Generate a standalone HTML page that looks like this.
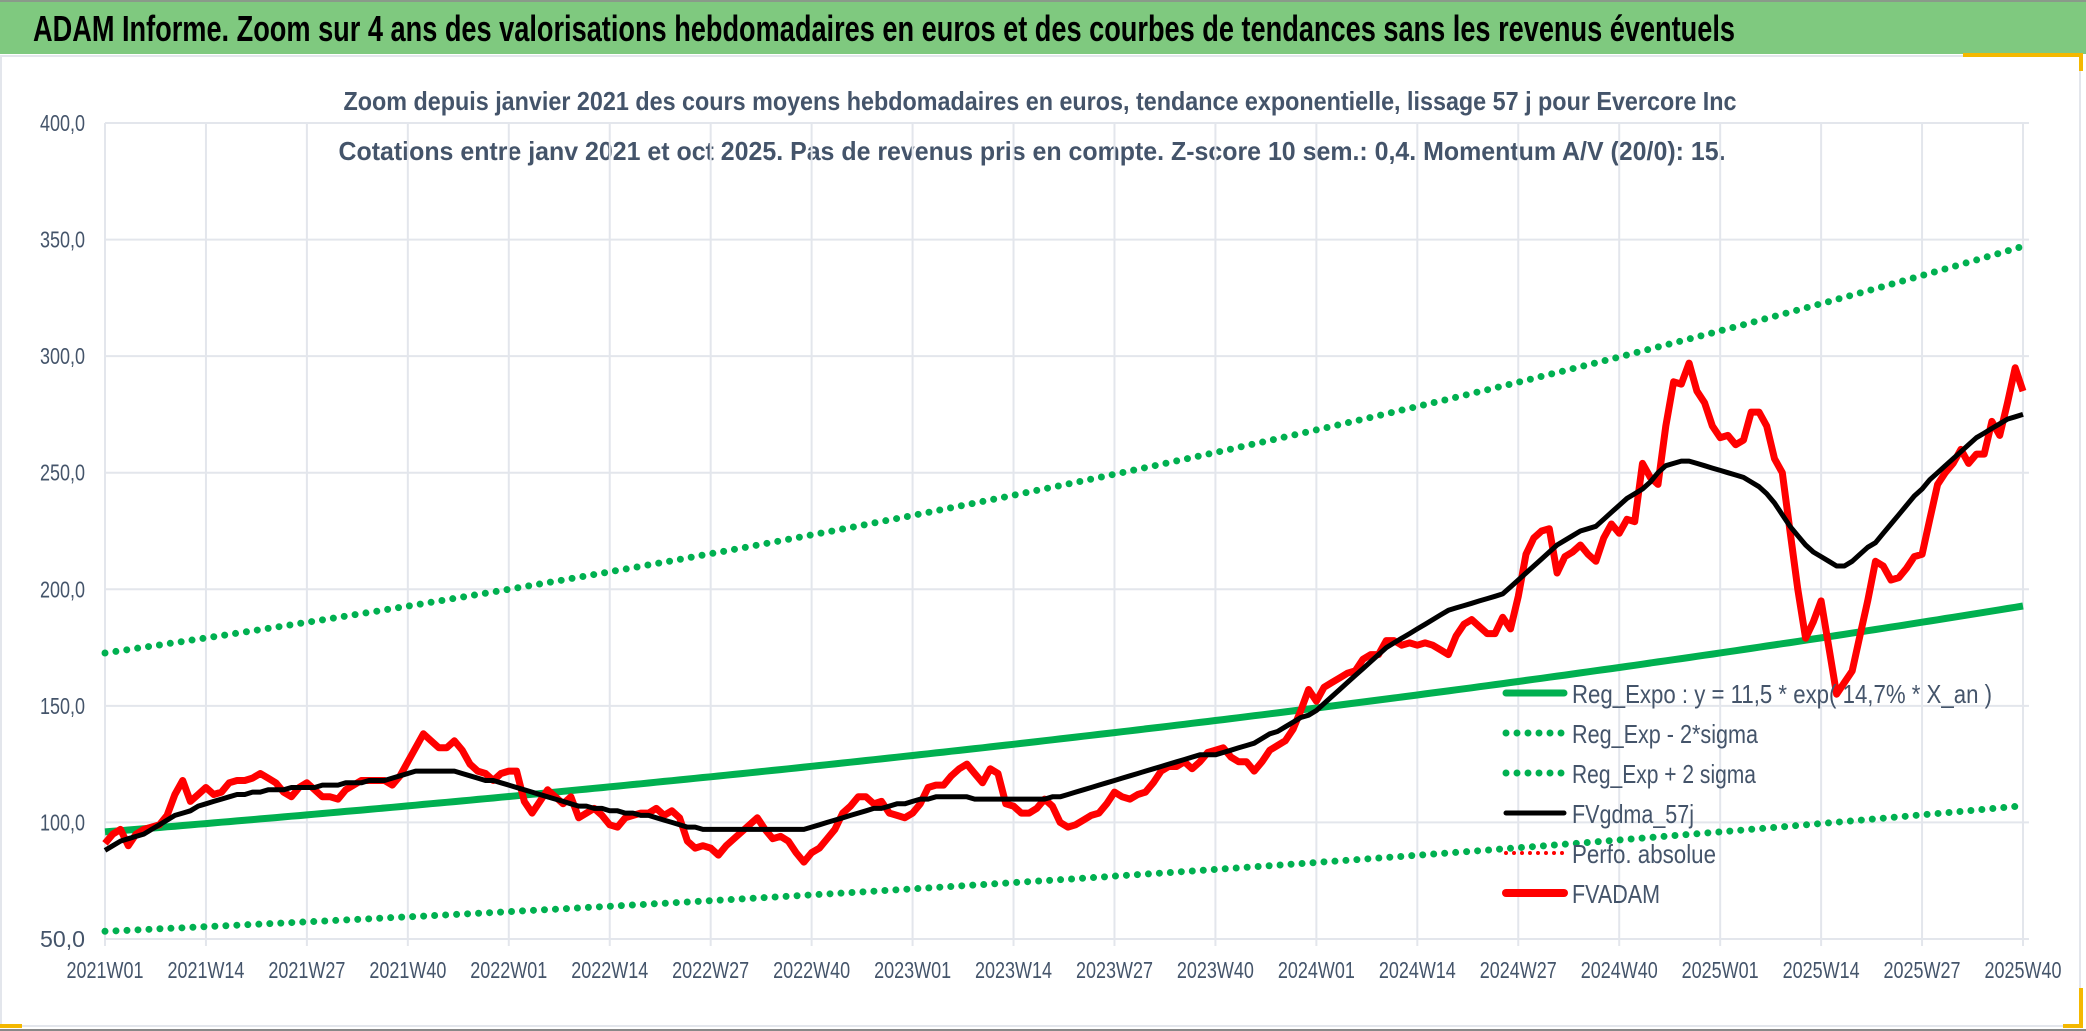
<!DOCTYPE html>
<html><head><meta charset="utf-8"><style>
html,body{margin:0;padding:0;background:#fff;}
svg{display:block;}
text{font-family:"Liberation Sans",sans-serif;}
</style></head><body>
<svg id="chart" width="2086" height="1031" viewBox="0 0 2086 1031" xmlns="http://www.w3.org/2000/svg">
<rect x="0" y="0" width="2086" height="1031" fill="#ffffff"/>
<rect x="0" y="0" width="2086" height="54" fill="#7fc97f"/>
<line x1="0" y1="1" x2="2086" y2="1" stroke="#8a9a8a" stroke-width="2"/>
<text x="33" y="41" font-size="36" font-weight="bold" fill="#000" textLength="1702" lengthAdjust="spacingAndGlyphs">ADAM Informe. Zoom sur 4 ans des valorisations hebdomadaires en euros et des courbes de tendances sans les revenus éventuels</text>
<rect x="1" y="56" width="2079" height="970" fill="none" stroke="#e3e6ec" stroke-width="2"/>
<line x1="0" y1="1030" x2="2086" y2="1030" stroke="#888" stroke-width="2"/>
<rect x="1963" y="53" width="120" height="4" fill="#f4b800"/><rect x="2079" y="53" width="4" height="18" fill="#f4b800"/>
<rect x="2063" y="1024" width="20" height="4" fill="#f4b800"/><rect x="2079" y="988" width="4" height="40" fill="#f4b800"/>
<rect x="0" y="1024" width="22" height="4" fill="#f4b800"/>
<text x="1040" y="110" font-size="26" font-weight="bold" fill="#44546a" text-anchor="middle" textLength="1393" lengthAdjust="spacingAndGlyphs">Zoom depuis janvier 2021 des cours moyens hebdomadaires en euros, tendance exponentielle, lissage 57 j pour Evercore Inc</text>
<text x="1032" y="160" font-size="26" font-weight="bold" fill="#44546a" text-anchor="middle" textLength="1387" lengthAdjust="spacingAndGlyphs">Cotations entre janv 2021 et oct 2025. Pas de revenus pris en compte. Z-score 10 sem.: 0,4. Momentum A/V (20/0): 15.</text>
<g id="grid"></g>
<g id="axes"></g>
<g id="series"></g>
<g id="legend"></g>
</svg>
<script>
const yTicks = [50,100,150,200,250,300,350,400];
const yTickLabels = ["50,0","100,0","150,0","200,0","250,0","300,0","350,0","400,0"];
const xTickLabels = ["2021W01","2021W14","2021W27","2021W40","2022W01","2022W14","2022W27","2022W40","2023W01","2023W14","2023W27","2023W40","2024W01","2024W14","2024W27","2024W40","2025W01","2025W14","2025W27","2025W40"];
const regCoef = [11.5];
const regRate = [0.147];
const regStartYears = [14.43];
const regSigmaFactor = [1.8];
const fvadam = [91,95,97,90,95,97,98,99,103,112,118,109,112,
115,112,113,117,118,118,119,121,119,117,113,111,115,
117,114,111,111,110,114,116,118,118,118,118,116,120,
126,132,138,135,132,132,135,131,125,122,121,118,121,
122,122,109,104,109,114,111,108,111,102,104,106,103,
99,98,102,103,104,104,106,103,105,102,92,89,90,
89,86,90,93,96,99,102,97,93,94,92,87,83,
87,89,93,97,104,107,111,
111,108,109,104,103,102,104,108,115,116,116,120,123,
125,121,117,123,121,108,107,104,104,106,110,107,100,
98,99,101,103,104,108,113,111,110,112,113,117,122,
124,124,126,123,126,130,131,132,128,126,126,122,126,
131,133,135,140,148,
157,152,158,160,162,164,165,170,172,172,178,178,176,
177,176,177,176,174,172,180,185,187,184,181,181,188,
183,197,215,222,225,226,207,214,216,219,215,212,222,
228,224,230,229,254,248,245,270,289,288,297,285,280,
270,265,266,262,264,276,276,270,256,250,225,200,179,
186,195,175,155,160,165,180,195,212,210,204,205,209,
214,215,230,245,250,254,260,254,258,258,272,266,280,
295,285];
const fvgdma = [88,90,92,93,94,95,97,99,101,103,104,105,107,
108,109,110,111,112,112,113,113,114,114,114,115,115,
115,115,116,116,116,117,117,117,118,118,118,119,120,
121,122,122,122,122,122,122,121,120,119,118,118,117,
116,115,114,113,112,111,110,109,108,107,107,106,106,
105,105,104,104,103,103,102,101,100,99,98,98,97,
97,97,97,97,97,97,97,97,97,97,97,97,97,
98,99,100,101,102,103,104,
105,106,106,107,108,108,109,110,110,111,111,111,111,
111,110,110,110,110,110,110,110,110,110,110,111,111,
112,113,114,115,116,117,118,119,120,121,122,123,124,
125,126,127,128,129,129,129,130,131,132,133,134,136,
138,139,141,143,145,
146,148,151,154,157,160,163,166,169,172,175,177,179,
181,183,185,187,189,191,192,193,194,195,196,197,198,
201,204,207,210,213,216,219,221,223,225,226,227,230,
233,236,239,241,243,246,250,253,254,255,255,254,253,
252,251,250,249,248,246,244,241,237,232,227,223,219,
216,214,212,210,210,212,215,218,220,224,228,232,236,
240,243,247,250,253,256,259,262,265,267,269,271,273,
274,275];

const NS = "http://www.w3.org/2000/svg";
const X0 = 105, X1 = 2023, Y50 = 939, Y400 = 123;
const nWeeks = fvadam.length;
const weeksSpan = 247;
function xScale(i){ return X0 + (X1 - X0) * i / weeksSpan; }
function yScale(v){ return Y50 + (Y400 - Y50) * (v - 50) / 350; }
function mk(tag, attrs, parent){ const e = document.createElementNS(NS, tag); for (const k in attrs) e.setAttribute(k, attrs[k]); parent.appendChild(e); return e; }

const grid = document.getElementById('grid');
const axes = document.getElementById('axes');
const series = document.getElementById('series');
const legend = document.getElementById('legend');

yTicks.forEach((v, k) => {
  const l = mk('line', {x1: X0, x2: X1 + 6, y1: yScale(v), y2: yScale(v), stroke: '#e3e6ec', 'stroke-width': 2}, grid);
  
  
  const t = mk('text', {x: 85, y: yScale(v) + 8, 'font-size': 23, fill: '#44546a', 'text-anchor': 'end', textLength: 45, lengthAdjust: 'spacingAndGlyphs'}, axes);
  t.textContent = yTickLabels[k];
  
  
});
xTickLabels.forEach((lab, k) => {
  const x = xScale(k * 13);
  const l = mk('line', {x1: x, x2: x, y1: Y400, y2: Y50 + 7, stroke: '#e3e6ec', 'stroke-width': 2}, grid);
  
  
  const t = mk('text', {x: x, y: 978, 'font-size': 23, fill: '#44546a', 'text-anchor': 'middle', textLength: 77, lengthAdjust: 'spacingAndGlyphs'}, axes);
  t.textContent = lab;
  
  
});

function regVal(i, f){ return f * regCoef[0] * Math.exp(regRate[0] * (regStartYears[0] + i / 52)); }
function pathFrom(fn){ let d = ''; for (let i = 0; i < nWeeks; i++){ d += (i ? 'L' : 'M') + xScale(i).toFixed(1) + ',' + yScale(fn(i)).toFixed(1); } return d; }

const upper = mk('path', {d: pathFrom(i => regVal(i, regSigmaFactor[0])), fill: 'none', stroke: '#00b050', 'stroke-width': 7, 'stroke-linecap': 'round', 'stroke-dasharray': '0 11'}, series);


const lower = mk('path', {d: pathFrom(i => regVal(i, 1 / regSigmaFactor[0])), fill: 'none', stroke: '#00b050', 'stroke-width': 7, 'stroke-linecap': 'round', 'stroke-dasharray': '0 11'}, series);


const reg = mk('path', {d: pathFrom(i => regVal(i, 1)), fill: 'none', stroke: '#00b050', 'stroke-width': 7, 'stroke-linejoin': 'round'}, series);


const red = mk('path', {d: pathFrom(i => fvadam[i]), fill: 'none', stroke: '#ff0000', 'stroke-width': 7, 'stroke-linejoin': 'round'}, series);


const blk = mk('path', {d: pathFrom(i => fvgdma[i]), fill: 'none', stroke: '#000000', 'stroke-width': 5, 'stroke-linejoin': 'round'}, series);



const legItems = [
  {label: 'Reg_Expo : y = 11,5 * exp( 14,7% *  X_an )', color: '#00b050', dash: null, w: 7, tl: 420, name: 'legend-reg-expo'},
  {label: 'Reg_Exp - 2*sigma', color: '#00b050', dash: '0 11', w: 7, tl: 186, name: 'legend-reg-exp-minus'},
  {label: 'Reg_Exp + 2 sigma', color: '#00b050', dash: '0 11', w: 7, tl: 184, name: 'legend-reg-exp-plus'},
  {label: 'FVgdma_57j', color: '#000000', dash: null, w: 5, tl: 122, name: 'legend-fvgdma'},
  {label: 'Perfo. absolue', color: '#ff0000', dash: '0 8', w: 4, tl: 144, name: 'legend-perfo-absolue'},
  {label: 'FVADAM', color: '#ff0000', dash: null, w: 8, tl: 88, name: 'legend-fvadam'}
];
legItems.forEach((it, k) => {
  const y = 693 + k * 40;
  const g = mk('g', {}, legend);
  
  
  const la = {x1: 1506, x2: 1564, y1: y, y2: y, stroke: it.color, 'stroke-width': it.w, 'stroke-linecap': 'round'};
  if (it.dash) la['stroke-dasharray'] = it.dash;
  mk('line', la, g);
  const t = mk('text', {x: 1572, y: y + 10, 'font-size': 26, fill: '#44546a', textLength: it.tl, lengthAdjust: 'spacingAndGlyphs'}, g);
  t.textContent = it.label;
});
</script>
</body></html>
